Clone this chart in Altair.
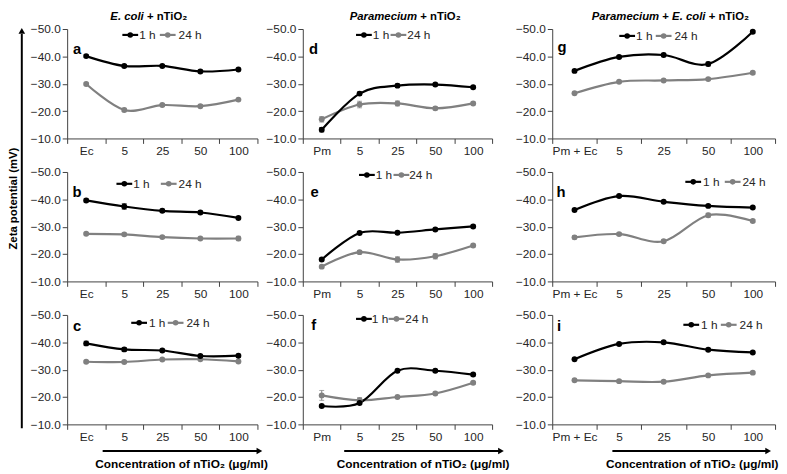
import altair as alt
import pandas as pd

# ---------------- data ----------------
cats_ec = ["Ec", "5", "25", "50", "100"]
cats_pm = ["Pm", "5", "25", "50", "100"]
cats_pe = ["Pm + Ec", "5", "25", "50", "100"]
series = ["1 h", "24 h"]

a_1h = [-40.1, -36.5, -36.5, -34.5, -35.2]
a_24h = [-29.9, -20.4, -22.2, -21.8, -24.2]
b_1h = [-39.6, -37.4, -35.8, -35.2, -33.2]
b_24h = [-27.4, -27.2, -26.2, -25.7, -25.7]
c_1h = [-39.6, -37.4, -37.0, -35.0, -35.1]
c_24h = [-32.9, -32.8, -33.7, -33.8, -33.0]

d_1h = [-13.2, -26.4, -29.3, -29.7, -28.7]
d_24h = [-17.0, -22.4, -22.8, -21.0, -22.8]
e_1h = [-18.0, -27.7, -27.8, -29.0, -30.1]
e_24h = [-15.4, -20.7, -18.0, -19.2, -23.1]
f_1h = [-16.7, -17.8, -29.6, -29.6, -28.2]
f_24h = [-20.6, -18.8, -20.0, -21.3, -25.2]

g_1h = [-34.7, -39.8, -40.5, -37.2, -49.0]
g_24h = [-26.5, -30.7, -31.2, -31.7, -34.0]
h_1h = [-36.1, -41.2, -39.1, -37.6, -37.0]
h_24h = [-26.1, -27.3, -24.7, -34.2, -32.1]
i_1h = [-33.8, -39.4, -40.0, -37.3, -36.3]
i_24h = [-26.1, -25.8, -25.6, -27.9, -28.9]

# error bar half-widths (mV)
a_1h_err = [0.5, 0.5, 0.4, 0.5, 0.4]
a_24h_err = [0.4, 0.6, 0.5, 0.5, 0.4]
b_1h_err = [0.6, 1.0, 0.6, 0.5, 0.5]
b_24h_err = [0.4, 0.5, 0.4, 0.4, 0.8]
c_1h_err = [0.8, 0.7, 0.5, 0.5, 0.5]
c_24h_err = [0.4, 0.4, 0.4, 0.4, 0.4]
d_1h_err = [0.8, 0.6, 0.6, 0.5, 0.5]
d_24h_err = [1.0, 1.2, 0.9, 0.6, 0.5]
e_1h_err = [0.5, 0.5, 0.5, 0.5, 0.5]
e_24h_err = [0.5, 0.6, 1.0, 1.0, 0.5]
f_1h_err = [0.5, 0.5, 0.5, 0.5, 0.5]
f_24h_err = [1.8, 1.0, 0.5, 0.5, 0.5]
g_1h_err = [0.5, 0.5, 0.6, 0.7, 0.5]
g_24h_err = [0.4, 0.4, 0.4, 0.4, 0.5]
h_1h_err = [0.4, 0.4, 0.4, 0.4, 0.4]
h_24h_err = [0.6, 0.5, 0.5, 0.7, 0.5]
i_1h_err = [0.4, 0.4, 0.5, 0.5, 0.4]
i_24h_err = [0.4, 0.4, 0.4, 0.4, 0.4]

y_ticks = [-50, -40, -30, -20, -10]
col_titles = [
    [("E. coli", True), (" + nTiO₂", False)],
    [("Paramecium", True), (" + nTiO₂", False)],
    [("Paramecium", True), (" + ", False), ("E. coli", True), (" + nTiO₂", False)],
]
x_title = "Concentration of nTiO₂ (μg/ml)"
y_title = "Zeta potential (mV)"

# ---------------- style ----------------
FONT = "Liberation Sans"
BLACK = "#000000"
GRAY = "#808080"
AXC = "#404040"
H = 111
W1, W2, W3 = 193, 192, 226
dummy = pd.DataFrame({"k": [0]})

CW = {' ': 0.278, '+': 0.584, '.': 0.278, 'E': 0.667, 'c': 0.556, 'o': 0.611, 'l': 0.278,
      'i': 0.278, 'n': 0.611, 'T': 0.611, 'O': 0.778, 'P': 0.667, 'a': 0.556, 'r': 0.389,
      'm': 0.889, 'e': 0.556, 'u': 0.611, '₂': 0.45}


def txt(text, x, y, size=11, weight="normal", style="normal", align="left", color="#262626", angle=0):
    return alt.Chart(dummy).mark_text(
        text=text, font=FONT, fontSize=size, fontWeight=weight, fontStyle=style,
        align=align, baseline="middle", color=color, angle=angle
    ).encode(x=alt.value(x), y=alt.value(y))


def mixed_title(pieces, cx, y, size=11.5):
    total = sum(CW.get(ch, 0.6) for t, _ in pieces for ch in t) * size
    x = cx - total / 2
    layers = []
    for t, it in pieces:
        lead = len(t) - len(t.lstrip(" "))
        xs = x + lead * CW[' '] * size
        layers.append(txt(t.strip(" "), xs, y, size=size, weight="bold",
                          style="italic" if it else "normal", color="#000000"))
        x += sum(CW.get(ch, 0.6) for ch in t) * size
    return layers


def legend(bx, btx, gx, gtx, y):
    out = []
    for cx, tx, colr, lab in ((bx, btx, BLACK, "1 h"), (gx, gtx, GRAY, "24 h")):
        out.append(alt.Chart(dummy).mark_rule(color=colr, strokeWidth=2.2).encode(
            x=alt.value(cx - 8), x2=alt.value(cx + 8), y=alt.value(y)))
        out.append(alt.Chart(dummy).mark_point(filled=True, color=colr, opacity=1, size=32, shape="circle").encode(
            x=alt.value(cx), y=alt.value(y)))
        out.append(txt(lab, tx, y, size=12))
    return out


def panel(cats, v1, v24, e1, e24, width, letter, lpos, leg, extra=()):
    rows = []
    for s, vals, errs in (("24 h", v24, e24), ("1 h", v1, e1)):
        for k, (c, v, e) in enumerate(zip(cats, vals, errs)):
            rows.append({"cat": c, "idx": k, "series": s, "value": v, "lo": v - e, "hi": v + e})
    df = pd.DataFrame(rows)
    xenc = alt.X("cat:N", sort=cats,
                 scale=alt.Scale(type="band", paddingInner=0, paddingOuter=0),
                 axis=alt.Axis(title=None, tickBand="extent", labelAngle=0, labelOverlap=False))
    ysc = alt.Scale(domain=[-50, -10], reverse=True, nice=False, zero=False)
    yax = alt.Axis(title=None, values=y_ticks, format=".1f")
    colr = alt.Color("series:N", scale=alt.Scale(domain=series, range=[BLACK, GRAY]), legend=None)
    base = alt.Chart(df)
    err = base.mark_rule(strokeWidth=1).encode(
        x=xenc, y=alt.Y("lo:Q", scale=ysc, axis=yax), y2="hi:Q", color=colr)
    cap1 = base.mark_tick(size=5, thickness=1).encode(
        x=xenc, y=alt.Y("lo:Q", scale=ysc, axis=yax), color=colr)
    cap2 = base.mark_tick(size=5, thickness=1).encode(
        x=xenc, y=alt.Y("hi:Q", scale=ysc, axis=yax), color=colr)
    line = base.mark_line(interpolate="cardinal", strokeWidth=2.2).encode(
        x=xenc, y=alt.Y("value:Q", scale=ysc, axis=yax), color=colr, order="idx:Q")
    pts = base.mark_circle(size=36, opacity=1).encode(
        x=xenc, y=alt.Y("value:Q", scale=ysc, axis=yax), color=colr)
    lab = txt(letter, lpos[0], lpos[1], size=15, weight="bold", align="center", color="#000000")
    layers = [err, cap1, cap2, line, pts, lab] + legend(*leg) + list(extra)
    return alt.layer(*layers).properties(width=width, height=H)


def bottom_title(x0, x1, cx):
    return [
        alt.Chart(dummy).mark_rule(color="#000000", strokeWidth=2).encode(
            x=alt.value(x0), x2=alt.value(x1 - 4), y=alt.value(H + 27)),
        alt.Chart(dummy).mark_point(filled=True, color="#000000", opacity=1, shape="triangle-right", size=45).encode(
            x=alt.value(x1 - 3), y=alt.value(H + 27)),
        txt(x_title, cx, H + 40, size=12, weight="bold", align="center", color="#000000"),
    ]


def spacer(w):
    return alt.Chart(dummy).mark_point(opacity=0).encode(
        x=alt.value(0), y=alt.value(0)).properties(width=w, height=H)


ylab = [
    txt(y_title, -53.5, 27, size=11.5, weight="bold", align="center", color="#000000", angle=270),
    alt.Chart(dummy).mark_rule(color="#000000", strokeWidth=2).encode(
        x=alt.value(-46), y=alt.value(260), y2=alt.value(-140)),
    alt.Chart(dummy).mark_point(filled=True, color="#000000", opacity=1, shape="triangle-up", size=45).encode(
        x=alt.value(-46), y=alt.value(-143)),
]

pa = panel(cats_ec, a_1h, a_24h, a_1h_err, a_24h_err, W1, "a", (10, 20), (64, 73, 102, 113, 6),
           mixed_title(col_titles[0], 83, -12))
pb = panel(cats_ec, b_1h, b_24h, b_1h_err, b_24h_err, W1, "b", (10, 20), (58, 67, 103, 113, 12), ylab)
pc = panel(cats_ec, c_1h, c_24h, c_1h_err, c_24h_err, W1, "c", (10, 11), (73, 83, 110, 121, 8),
           bottom_title(36, 198, 116))
pd_ = panel(cats_pm, d_1h, d_24h, d_1h_err, d_24h_err, W2, "d", (11, 20), (62, 71, 97, 106, 6),
            mixed_title(col_titles[1], 104, -12))
pe = panel(cats_pm, e_1h, e_24h, e_1h_err, e_24h_err, W2, "e", (12, 20), (65, 74, 100, 108, 3))
pf = panel(cats_pm, f_1h, f_24h, f_1h_err, f_24h_err, W2, "f", (11, 10), (62, 70, 95, 104, 4),
           bottom_title(42, 204, 122))
pg = panel(cats_pe, g_1h, g_24h, g_1h_err, g_24h_err, W3, "g", (10, 18), (76, 85, 113, 124, 7),
           mixed_title(col_titles[2], 120, -12))
ph = panel(cats_pe, h_1h, h_24h, h_1h_err, h_24h_err, W3, "h", (9, 20), (143, 153, 183, 193, 10))
pi = panel(cats_pe, i_1h, i_24h, i_1h_err, i_24h_err, W3, "i", (7, 11), (141, 151, 179, 190, 10),
           bottom_title(61, 222, 142))

grid = [pa, spacer(46), pd_, spacer(61), pg,
        pb, spacer(46), pe, spacer(61), ph,
        pc, spacer(46), pf, spacer(61), pi]

chart = alt.concat(*grid, columns=5, spacing={"row": 34, "column": 0}, bounds="flush", align="each").properties(
    padding=0
).configure_view(stroke=None).configure_axis(
    grid=False, domainColor=AXC, tickColor=AXC, tickSize=5, domainWidth=1, tickWidth=1,
    labelFont=FONT, labelFontSize=12, labelColor="#262626", labelPadding=2
)

chart.save("out.html", embed_options={"renderer": "svg", "actions": False})
